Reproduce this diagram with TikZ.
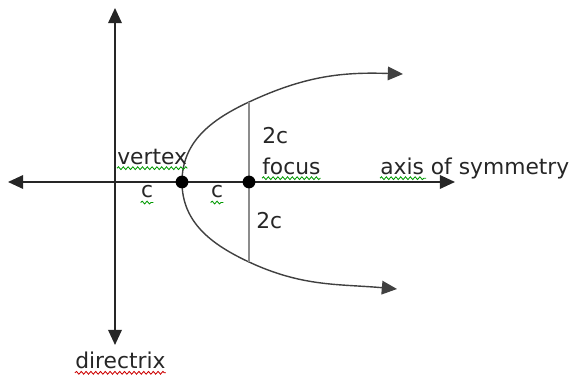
\documentclass[tikz,border=0pt]{standalone}
\usepackage{fontspec}
\setmainfont{DejaVu Sans}
\usetikzlibrary{arrows.meta,decorations.pathmorphing}

\tikzset{
  axisline/.style={line width=1.3pt, black!85},
  curve/.style={line width=1pt, black!75},
  latus/.style={line width=0.8pt, black!45},
  dot/.style={circle, fill=black, inner sep=0pt, minimum size=0.32cm},
  lbl/.style={font=\fontsize{15.5pt}{18pt}\selectfont, inner sep=0pt, text=black!85},
  squiggle/.style={decorate, decoration={snake, amplitude=0.035cm, segment length=0.12cm}, line width=0.6pt, green!60!black},
  redsquiggle/.style={squiggle, red!80!black}
}

\begin{document}
\begin{tikzpicture}[>={Triangle[length=0.38cm,width=0.34cm]}]
  \useasboundingbox (-2.875,-4.925) rectangle (11.425,4.55);
  % axes
  \coordinate (left) at (-2.675,0);
  \coordinate (right) at (8.5,0);
  \coordinate (top) at (0,4.35);
  \coordinate (bottom) at (0,-4.075);
  \draw[axisline,<->] (left) -- (right);
  \draw[axisline,<->] (top) -- (bottom);
  % parabola
  \coordinate (vx) at (1.675,0);
  \coordinate (fx) at (3.35,0);
  \coordinate (LT) at (3.35,2.0);
  \coordinate (LB) at (3.35,-2.0);
  \coordinate (tipU) at (7.2,2.7);
  \coordinate (tipL) at (7.05,-2.675);
  \draw[curve,<->] (tipL) to[out=175,in=-25] (LB) to[out=155,in=-90] (vx)
     to[out=90,in=205] (LT) to[out=25,in=178] (tipU);
  % latus rectum
  \draw[latus] (LT) -- (LB);
  \node[dot] (V) at (vx) {};
  \node[dot] (F) at (fx) {};
  % labels
  \node[lbl, anchor=base west] (vertex) at (0.05,0.425) {vertex};
  \node[lbl] (c1) at (0.8,-0.25) {c};
  \node[lbl] (c2) at (2.55,-0.25) {c};
  \node[lbl, anchor=west] (up) at (3.675,1.15) {2c};
  \node[lbl, anchor=base west] (focus) at (3.675,0.175) {focus};
  \node[lbl, anchor=west] (down) at (3.525,-0.975) {2c};
  \node[lbl, anchor=base west] (sym) at (6.625,0.175) {axis of symmetry};
  \node[lbl, anchor=base west] (dir) at (-1.0,-4.65) {directrix};
  % spelling marks
  \draw[squiggle] ([yshift=-0.08cm]vertex.base west) -- ([yshift=-0.08cm]vertex.base east);
  \draw[squiggle] ([yshift=-0.1cm]c1.south west) -- ([yshift=-0.1cm]c1.south east);
  \draw[squiggle] ([yshift=-0.1cm]c2.south west) -- ([yshift=-0.1cm]c2.south east);
  \draw[squiggle] ([yshift=-0.08cm]focus.base west) -- ([yshift=-0.08cm]focus.base east);
  \draw[squiggle] ([yshift=-0.08cm]sym.base west) -- ++(1.15,0);
  \draw[redsquiggle] ([yshift=-0.12cm]dir.base west) -- ([yshift=-0.12cm]dir.base east);
\end{tikzpicture}
\end{document}
